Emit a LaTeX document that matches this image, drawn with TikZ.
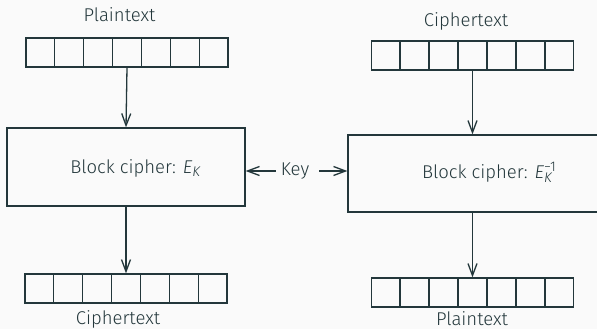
\documentclass[tikz,border=0pt]{standalone}
\usepackage{fontspec}
\setmainfont{Fira Sans Light}
\usetikzlibrary{arrows.meta,calc}
\definecolor{mdark}{HTML}{23373B}
\definecolor{bgc}{HTML}{FAFAFA}
\tikzset{
  lbl/.style={font=\fontsize{18.5}{22}\selectfont, text=mdark, inner sep=0pt, anchor=base},
  arr/.style={draw=mdark, line width=1.3pt, -{Straight Barb[length=12pt,width=9pt,line width=1.3pt]}},
  bitrow/.style={draw=mdark, line width=1.3pt, minimum width=202pt, minimum height=29pt, inner sep=0pt},
  cbox/.style={draw=mdark, line width=1.3pt, inner sep=0pt},
}
\newcommand{\cells}[1]{%
  \foreach \i in {1,...,6} {\draw[mdark, line width=1.3pt] ($(#1.north west)!\i/7!(#1.north east)$) -- ($(#1.south west)!\i/7!(#1.south east)$);}}
\newcommand{\scr}{\fontsize{14}{14}\selectfont}
\begin{document}
\begin{tikzpicture}[x=1pt,y=-1pt]
\fill[bgc] (0,0) rectangle (597,329);
\useasboundingbox (0,0) rectangle (597,329);
\clip (0,0) rectangle (597,329);
% left
\node[lbl] (lpt) at (119.5,22) {Plaintext};
\node[bitrow] (ltop) at (127,52.5) {};
\cells{ltop}
\node[cbox, minimum width=238pt, minimum height=78pt] (lbox) at (126,167) {};
\node[lbl] (lbt) at (135.5,173.3) {Block cipher: \textit{E}{\scr\raisebox{-3.5pt}{\textit{K}}}};
\node[bitrow] (lbot) at (126,288.5) {};
\cells{lbot}
\node[lbl] (lct) at (118,324) {Ciphertext};
\draw[arr] (ltop.south) -- (lbox.north);
\draw[arr] (lbox.south) -- (lbot.north);
% key
\node[lbl, anchor=center, inner xsep=5pt] (key) at (295,171) {Key};
% right
\node[lbl] (rct) at (466,27) {Ciphertext};
\node[bitrow] (rtop) at (472.5,55.5) {};
\cells{rtop}
\node[cbox, minimum width=262pt, minimum height=77pt] (rbox) at (479,173.5) {};
\node[lbl] (rbt) at (489,178.3) {Block cipher: \textit{E}{\scr\rlap{\raisebox{-4pt}{\textit{K}}}\raisebox{6.5pt}{−1}}};
\node[bitrow] (rbot) at (472.5,292.5) {};
\cells{rbot}
\node[lbl] (rpt) at (472,325.5) {Plaintext};
\draw[arr] (rtop.south) -- (rbox.north -| rtop.south);
\draw[arr] (rbox.south -| rbot.north) -- (rbot.north);
\draw[arr] (key.west) -- (key.west -| lbox.east);
\draw[arr] ([xshift=5pt]key.east) -- (key.east -| rbox.west);
\end{tikzpicture}
\end{document}
